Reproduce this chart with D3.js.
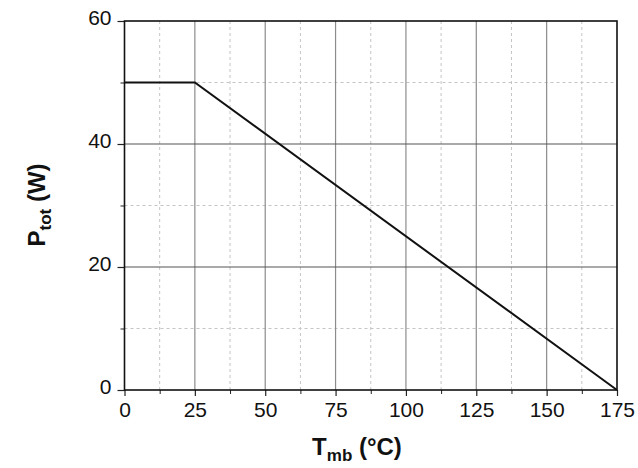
<!DOCTYPE html>
<html>
<head>
<meta charset="utf-8">
<script src="https://cdn.jsdelivr.net/npm/d3@7"></script>
<style>
  html, body { margin: 0; padding: 0; background: #fff; }
  svg { display: block; font-family: "Liberation Sans", Arial, sans-serif; }
</style>
</head>
<body>
<div id="chart"></div>
<script>
// ---- Data ----
const tempC = [0, 25, 175];
const powerW = [50, 50, 0];
const xTicks = [0, 25, 50, 75, 100, 125, 150, 175];
const yTicks = [0, 20, 40, 60];
const xMinor = [12.5, 37.5, 62.5, 87.5, 112.5, 137.5, 162.5];
const yMinor = [10, 30, 50];

const W = 638, H = 468;
const margin = { top: 21, right: 21, bottom: 78, left: 124.5 };
const innerW = W - margin.left - margin.right;
const innerH = H - margin.top - margin.bottom;

const svg = d3.select('#chart').append('svg')
  .attr('width', W)
  .attr('height', H);

const g = svg.append('g')
  .attr('transform', `translate(${margin.left},${margin.top})`);

// ---- Scales ----
const x = d3.scaleLinear().domain([0, 175]).range([0, innerW]);
const y = d3.scaleLinear().domain([0, 60]).range([innerH, 0]);

// ---- Minor (dashed) grid ----
g.append('g').selectAll('line')
  .data(xMinor).enter().append('line')
  .attr('x1', d => x(d)).attr('x2', d => x(d))
  .attr('y1', 0).attr('y2', innerH)
  .attr('stroke', '#c4c4c4').attr('stroke-width', 1)
  .attr('stroke-dasharray', '3,3');

g.append('g').selectAll('line')
  .data(yMinor).enter().append('line')
  .attr('x1', 0).attr('x2', innerW)
  .attr('y1', d => y(d)).attr('y2', d => y(d))
  .attr('stroke', '#c4c4c4').attr('stroke-width', 1)
  .attr('stroke-dasharray', '3,3');

// ---- Major grid ----
g.append('g').selectAll('line')
  .data(xTicks.slice(1, -1)).enter().append('line')
  .attr('x1', d => x(d)).attr('x2', d => x(d))
  .attr('y1', 0).attr('y2', innerH)
  .attr('stroke', '#8c8c8c').attr('stroke-width', 1.2);

g.append('g').selectAll('line')
  .data(yTicks.slice(1, -1)).enter().append('line')
  .attr('x1', 0).attr('x2', innerW)
  .attr('y1', d => y(d)).attr('y2', d => y(d))
  .attr('stroke', '#555').attr('stroke-width', 1.2);

// ---- Axes ----
const yAxis = g.append('g')
  .call(d3.axisLeft(y).tickValues(yTicks).tickSize(7).tickPadding(6).tickFormat(d3.format('d')));
yAxis.select('.domain').remove();
yAxis.selectAll('text').style('font-size', '21px').attr('fill', '#111').attr('dy', '0.18em');
yAxis.selectAll('line').attr('stroke', '#222').attr('stroke-width', 1.2);

g.append('g')
  .call(d3.axisLeft(y).tickValues(yMinor).tickSize(4).tickFormat(''))
  .call(a => a.select('.domain').remove())
  .selectAll('line').attr('stroke', '#222');

const xAxis = g.append('g')
  .attr('transform', `translate(0,${innerH})`)
  .call(d3.axisBottom(x).tickValues(xTicks).tickSize(6).tickPadding(6).tickFormat(d3.format('d')));
xAxis.select('.domain').remove();
xAxis.selectAll('text').style('font-size', '21px').attr('fill', '#111');
xAxis.selectAll('line').attr('stroke', '#222').attr('stroke-width', 1.2);

g.append('g')
  .attr('transform', `translate(0,${innerH})`)
  .call(d3.axisBottom(x).tickValues(xMinor).tickSize(4).tickFormat(''))
  .call(a => a.select('.domain').remove())
  .selectAll('line').attr('stroke', '#222');

// ---- Frame ----
g.append('rect')
  .attr('width', innerW).attr('height', innerH)
  .attr('fill', 'none').attr('stroke', '#111').attr('stroke-width', 1.6);

// ---- Derating line ----
const pts = tempC.map((t, i) => [t, powerW[i]]);
g.append('path')
  .datum(pts)
  .attr('fill', 'none')
  .attr('stroke', '#111')
  .attr('stroke-width', 2)
  .attr('d', d3.line().x(d => x(d[0])).y(d => y(d[1])));

// ---- Axis labels ----
const yl = svg.append('text')
  .attr('transform', 'translate(45,205) rotate(-90)')
  .attr('text-anchor', 'middle')
  .style('font-size', '24px')
  .style('font-weight', 'bold')
  .attr('fill', '#111');
yl.append('tspan').text('P');
yl.append('tspan').attr('dy', 6).style('font-size', '17px').text('tot');
yl.append('tspan').attr('dy', -6).text(' (W)');

const xl = svg.append('text')
  .attr('x', 357)
  .attr('y', 455)
  .attr('text-anchor', 'middle')
  .style('font-size', '24px')
  .style('font-weight', 'bold')
  .attr('fill', '#111');
xl.append('tspan').text('T');
xl.append('tspan').attr('dy', 6).style('font-size', '17px').text('mb');
xl.append('tspan').attr('dy', -6).text(' (°C)');
</script>
</body>
</html>
